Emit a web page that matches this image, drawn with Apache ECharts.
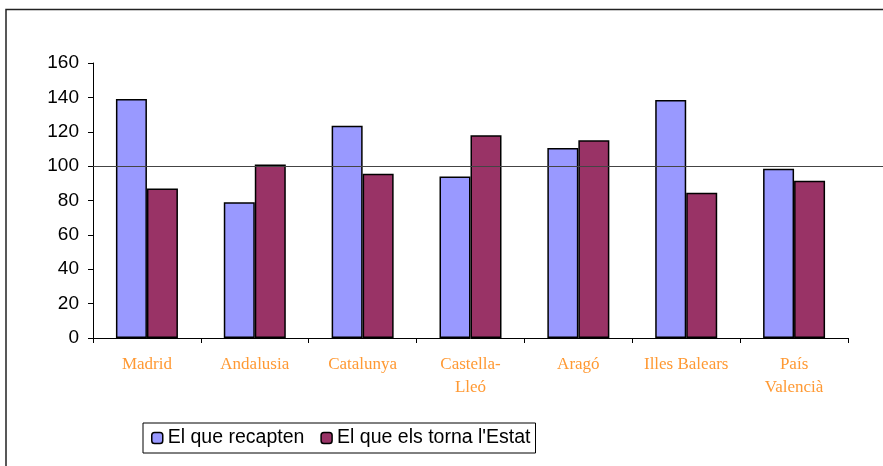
<!DOCTYPE html>
<html>
<head>
<meta charset="utf-8">
<script src="https://cdn.jsdelivr.net/npm/echarts@6/dist/echarts.min.js"></script>
<style>
  html, body { margin: 0; padding: 0; background: #fff; }
  #chart { width: 883px; height: 466px; }
</style>
</head>
<body>
<div id="chart"></div>
<script>
// dades llegides del gràfic
var regions = ['Madrid', 'Andalusia', 'Catalunya', 'Castella-\nLleó', 'Aragó', 'Illes Balears', 'País\nValencià'];
var recapten = [139, 79, 123.5, 94, 110.5, 138.5, 98.5];
var tornaEstat = [87, 101, 95.5, 118, 115, 84.5, 91.5];
var yTicks = [0, 20, 40, 60, 80, 100, 120, 140, 160];
var refValue = 100; // línia de referència

var chart = echarts.init(document.getElementById('chart'));

var option = {
    animation: false,
    backgroundColor: '#fff',
    grid: { left: 93, top: 63, right: 35, bottom: 128 },
    legend: {
        left: 143,
        top: 423,
        padding: [5, 5, 5, 8],
        itemGap: 16,
        itemWidth: 11,
        itemHeight: 11,
        itemStyle: { borderColor: '#000', borderWidth: 1.5 },
        backgroundColor: '#fff',
        borderColor: '#000',
        borderWidth: 1,
        textStyle: { fontFamily: 'Liberation Sans, Arial', fontSize: 19.5, color: '#000' },
        data: ['El que recapten', "El que els torna l'Estat"]
    },
    xAxis: {
        type: 'category',
        data: regions,
        axisLine: { lineStyle: { color: '#000', width: 1 } },
        axisTick: { show: true, length: 5, lineStyle: { color: '#000' } },
        axisLabel: {
            interval: 0,
            margin: 15,
            color: '#FF9933',
            fontFamily: 'Liberation Serif, Times New Roman, serif',
            fontSize: 17,
            lineHeight: 23
        },
        splitLine: { show: false }
    },
    yAxis: {
        type: 'value',
        min: yTicks[0],
        max: yTicks[yTicks.length - 1],
        interval: yTicks[1] - yTicks[0],
        axisLine: { show: true, lineStyle: { color: '#000', width: 1 } },
        axisTick: { show: true, length: 5, lineStyle: { color: '#000' } },
        axisLabel: {
            margin: 14,
            color: '#000',
            fontFamily: 'Liberation Sans, Arial',
            fontSize: 19
        },
        splitLine: { show: false }
    },
    series: [{
        name: 'El que recapten',
        type: 'bar',
        data: recapten,
        barWidth: 31,
        barGap: '0%',
        itemStyle: { color: '#9999FF', borderColor: '#000', borderWidth: 1.5 }
    }, {
        name: "El que els torna l'Estat",
        type: 'bar',
        data: tornaEstat,
        barWidth: 31,
        barGap: '0%',
        itemStyle: { color: '#993366', borderColor: '#000', borderWidth: 1.5 }
    }]
};

chart.setOption(option);

// línia de 100 que surt fins al marge dret, i el marc del gràfic
var yRef = chart.convertToPixel({ yAxisIndex: 0 }, refValue);
chart.setOption({
    graphic: [{
        type: 'line',
        z: 100,
        shape: { x1: 93, y1: Math.round(yRef) + 0.5, x2: 883, y2: Math.round(yRef) + 0.5 },
        style: { stroke: '#444', lineWidth: 1 }
    }, {
        type: 'rect',
        z: 100,
        shape: { x: 6, y: 9.5, width: 900, height: 470 },
        style: { fill: 'none', stroke: '#222', lineWidth: 1.5 }
    }]
});
</script>
</body>
</html>
